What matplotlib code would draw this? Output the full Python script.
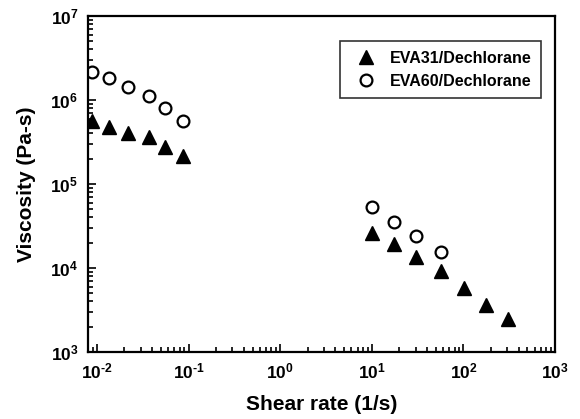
import numpy as np
import matplotlib
matplotlib.use('Agg')
import matplotlib.pyplot as plt
from matplotlib.ticker import LogLocator, NullFormatter, FuncFormatter

plt.rcParams['font.family'] = 'Liberation Sans'
plt.rcParams['font.weight'] = 'bold'
plt.rcParams['mathtext.fontset'] = 'custom'
plt.rcParams['mathtext.rm'] = 'Liberation Sans:bold'
plt.rcParams['mathtext.it'] = 'Liberation Sans:bold'
plt.rcParams['mathtext.bf'] = 'Liberation Sans:bold'
plt.rcParams['mathtext.default'] = 'regular'

# EVA31/Dechlorane
eva31_rate = [0.0089, 0.0137, 0.022, 0.0366, 0.056, 0.088,
              10.1, 17.4, 30.6, 56.8, 102, 176, 310]
eva31_visc = [5.67e5, 4.77e5, 4.05e5, 3.63e5, 2.76e5, 2.15e5,
              2.59e4, 1.91e4, 1.36e4, 9.2e3, 5.73e3, 3.63e3, 2.45e3]

# EVA60/Dechlorane
eva60_rate = [0.0089, 0.0137, 0.022, 0.0366, 0.056, 0.088,
              10.1, 17.4, 30.6, 56.8]
eva60_visc = [2.14e6, 1.80e6, 1.42e6, 1.11e6, 7.96e5, 5.67e5,
              5.28e4, 3.50e4, 2.43e4, 1.55e4]


def pow10(v, pos):
    e = int(round(np.log10(v)))
    return '$10^{\\text{%d}}$' % e


fig = plt.figure(figsize=(5.8, 4.19), dpi=100)
ax = fig.add_axes([0.1517, 0.160, 0.8053, 0.802])

ax.plot(eva31_rate, eva31_visc, '^', color='k', ms=10.5, mec='k', label='EVA31/Dechlorane')
ax.plot(eva60_rate, eva60_visc, 'o', mfc='white', mec='k', mew=1.6, ms=8.5, label='EVA60/Dechlorane')

ax.set_xscale('log')
ax.set_yscale('log')
ax.set_xlim(0.008, 1000)
ax.set_ylim(1e3, 1e7)

ax.xaxis.set_major_locator(LogLocator(base=10, numticks=10))
ax.xaxis.set_minor_locator(LogLocator(base=10, subs=np.arange(2, 10), numticks=10))
ax.yaxis.set_major_locator(LogLocator(base=10, numticks=10))
ax.yaxis.set_minor_locator(LogLocator(base=10, subs=np.arange(2, 10), numticks=10))
ax.xaxis.set_major_formatter(FuncFormatter(pow10))
ax.yaxis.set_major_formatter(FuncFormatter(pow10))
ax.xaxis.set_minor_formatter(NullFormatter())
ax.yaxis.set_minor_formatter(NullFormatter())

ax.tick_params(which='both', direction='in', top=False, right=False, width=1.2)
ax.tick_params(which='major', length=6, labelsize=12.5, pad=7)
ax.tick_params(which='minor', length=3.5)
for s in ax.spines.values():
    s.set_linewidth(1.6)

ax.set_xlabel('Shear rate (1/s)', fontsize=15, fontweight='bold', labelpad=10)
ax.set_ylabel('Viscosity (Pa-s)', fontsize=15, fontweight='bold', labelpad=10)

leg = ax.legend(loc='upper right', bbox_to_anchor=(0.97, 0.925), fontsize=11.5,
                frameon=True, fancybox=False, edgecolor='k', handletextpad=0.5,
                borderpad=0.6, labelspacing=0.5, borderaxespad=0)
leg.get_frame().set_linewidth(1.2)

fig.savefig('out.png', dpi=100)
